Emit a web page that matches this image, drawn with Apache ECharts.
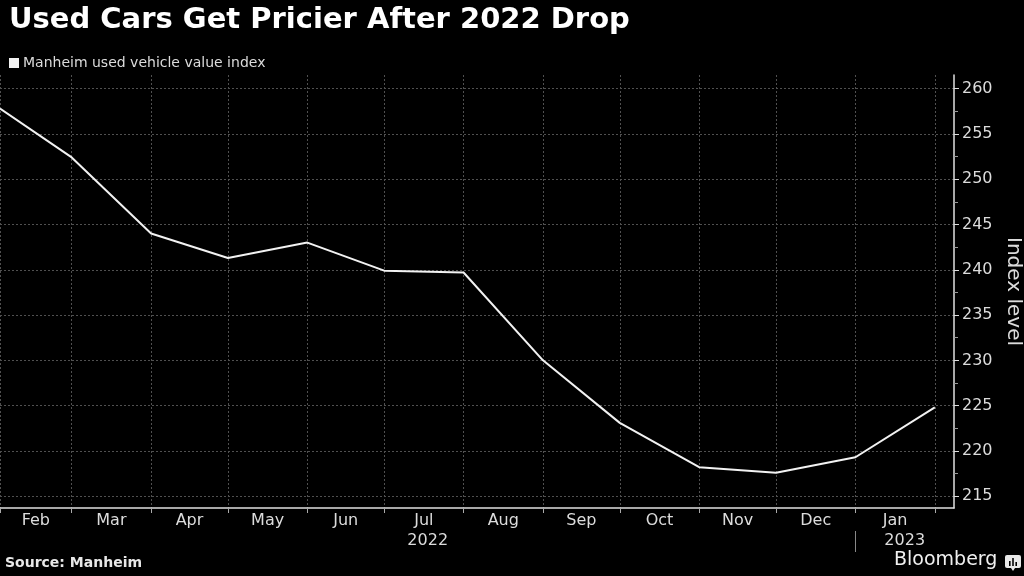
<!DOCTYPE html>
<html>
<head>
<meta charset="utf-8">
<style>
  html, body { margin: 0; padding: 0; background: #000; }
  #chart { width: 1024px; height: 576px; }
</style>
<script src="https://cdn.jsdelivr.net/npm/echarts@6/dist/echarts.min.js"></script>
</head>
<body>
<div id="chart"></div>
<script>
// ---- data ----
const seriesName = 'Manheim used vehicle value index';
const dates = ['2022-02-01','2022-03-01','2022-04-01','2022-05-01','2022-06-01','2022-07-01',
               '2022-08-01','2022-09-01','2022-10-01','2022-11-01','2022-12-01','2023-01-01','2023-02-01'];
const values = [257.8, 252.4, 244.0, 241.3, 243.0, 239.9, 239.7, 230.0, 223.1, 218.2, 217.6, 219.3, 224.8];
const monthLabels = ['Feb','Mar','Apr','May','Jun','Jul','Aug','Sep','Oct','Nov','Dec','Jan'];
const yearLabels = ['2022','2023'];
const yTicks = [215, 220, 225, 230, 235, 240, 245, 250, 255, 260];
const yMinorTicks = [217.5, 222.5, 227.5, 232.5, 237.5, 242.5, 247.5, 252.5, 257.5];
const yMin = 213.7, yMax = 261.5;
const xMinDate = '2022-02-01', xMaxDate = '2023-02-08';

// ---- helpers ----
function ts(s) { const [y, m, d] = s.split('-').map(Number); return new Date(y, m - 1, d).getTime(); }
const xMin = ts(xMinDate), xMax = ts(xMaxDate) + 12 * 3600 * 1000;
const tickTs = dates.map(ts);
const monthLabelTs = monthLabels.map((_, i) => (tickTs[i] + tickTs[i + 1]) / 2);
const yearBoundaryTs = yearLabels.slice(1).map(y => new Date(+y, 0, 1).getTime());
const yearLabelTs = yearLabels.map(y => {
  const a = Math.max(xMin, new Date(+y, 0, 1).getTime());
  const b = Math.min(xMax, new Date(+y + 1, 0, 1).getTime());
  return (a + b) / 2;
});
function nearestLabel(v, posArr, labelArr) {
  let best = 0;
  posArr.forEach((t, i) => { if (Math.abs(t - v) < Math.abs(posArr[best] - v)) best = i; });
  return labelArr[best];
}

const FONT = 'DejaVu Sans';
const TXT = '#dcdcdc';
const GRIDC = '#505050';

const chart = echarts.init(document.getElementById('chart'), null, { renderer: 'canvas' });
chart.setOption({
  backgroundColor: '#000',
  animation: false,
  title: {
    text: 'Used Cars Get Pricier After 2022 Drop',
    left: 4, top: 1,
    textStyle: { color: '#fff', fontFamily: FONT, fontWeight: 'bold', fontSize: 29 }
  },
  legend: {
    data: [seriesName],
    left: 4, top: 51,
    icon: 'rect', itemWidth: 10, itemHeight: 10, itemGap: 4,
    textStyle: { color: TXT, fontFamily: FONT, fontSize: 14, padding: [0, 0, 0, -1] }
  },
  grid: { left: 0, right: 70, top: 75, bottom: 68, containLabel: false, outerBoundsMode: 'none' },
  xAxis: [
    {
      type: 'value', min: xMin, max: xMax, position: 'bottom',
      axisLine: { show: true, onZero: false, lineStyle: { color: '#e0e0e0', width: 1.5 } },
      axisTick: { show: true, customValues: tickTs, length: 5, lineStyle: { color: '#aaa' } },
      axisLabel: { show: false },
      splitLine: { show: true, lineStyle: { color: GRIDC, type: [2, 2], width: 1 } }
    },
    {
      type: 'value', min: xMin, max: xMax, position: 'bottom',
      axisLine: { show: false, onZero: false },
      axisTick: { show: false },
      splitLine: { show: false },
      axisLabel: {
        show: true, customValues: monthLabelTs, margin: 5,
        color: TXT, fontFamily: FONT, fontSize: 16,
        formatter: v => nearestLabel(v, monthLabelTs, monthLabels)
      }
    },
    {
      type: 'value', min: xMin, max: xMax, position: 'bottom', offset: 23,
      axisLine: { show: false, onZero: false },
      axisTick: { show: true, customValues: yearBoundaryTs, length: 21, lineStyle: { color: '#888' } },
      splitLine: { show: false },
      axisLabel: {
        show: true, customValues: yearLabelTs, margin: 2,
        color: TXT, fontFamily: FONT, fontSize: 16,
        formatter: v => nearestLabel(v, yearLabelTs, yearLabels)
      }
    }
  ],
  yAxis: [
    {
      type: 'value', position: 'right', min: yMin, max: yMax,
      name: 'Index level', nameLocation: 'middle', nameRotate: -90, nameGap: 43,
      nameTextStyle: { color: TXT, fontFamily: FONT, fontSize: 20 },
      axisLine: { show: true, onZero: false, lineStyle: { color: '#e0e0e0', width: 1.5 } },
      axisTick: { show: true, customValues: yTicks, length: 5, lineStyle: { color: '#ddd' } },
      axisLabel: { show: true, customValues: yTicks, margin: 8, color: TXT, fontFamily: FONT, fontSize: 16 },
      splitLine: { show: true, lineStyle: { color: GRIDC, type: [2, 2], width: 1 } }
    },
    {
      type: 'value', position: 'right', min: yMin, max: yMax,
      axisLine: { show: false },
      axisTick: { show: true, customValues: yMinorTicks, length: 4, lineStyle: { color: '#999' } },
      axisLabel: { show: false },
      splitLine: { show: false }
    }
  ],
  series: [
    {
      name: seriesName, type: 'line',
      xAxisIndex: 0, yAxisIndex: 0,
      data: dates.map((d, i) => [ts(d), values[i]]),
      showSymbol: false, symbol: 'none',
      itemStyle: { color: '#f2f2f2' },
      lineStyle: { color: '#f2f2f2', width: 2 },
      clip: false
    }
  ],
  graphic: [
    {
      type: 'text', left: 5, top: 556,
      style: { text: 'Source: Manheim', fill: '#e8e8e8', font: 'bold 14px "DejaVu Sans"' }
    },
    {
      type: 'text', left: 894, top: 551,
      style: { text: 'Bloomberg', fill: '#f0f0f0', font: '19px "DejaVu Sans"' }
    },
    {
      type: 'group', left: 1005, top: 555,
      children: [
        { type: 'rect', shape: { x: 0, y: 0, width: 16, height: 13, r: 2 }, style: { fill: '#e8e8e8' } },
        { type: 'polygon', shape: { points: [[6, 13], [8, 16], [10, 13]] }, style: { fill: '#e8e8e8' } },
        { type: 'rect', shape: { x: 4, y: 6, width: 1.6, height: 5 }, style: { fill: '#000' } },
        { type: 'rect', shape: { x: 7.2, y: 3, width: 1.6, height: 8 }, style: { fill: '#000' } },
        { type: 'rect', shape: { x: 10.4, y: 7, width: 1.6, height: 4 }, style: { fill: '#000' } }
      ]
    }
  ]
});
</script>
</body>
</html>
